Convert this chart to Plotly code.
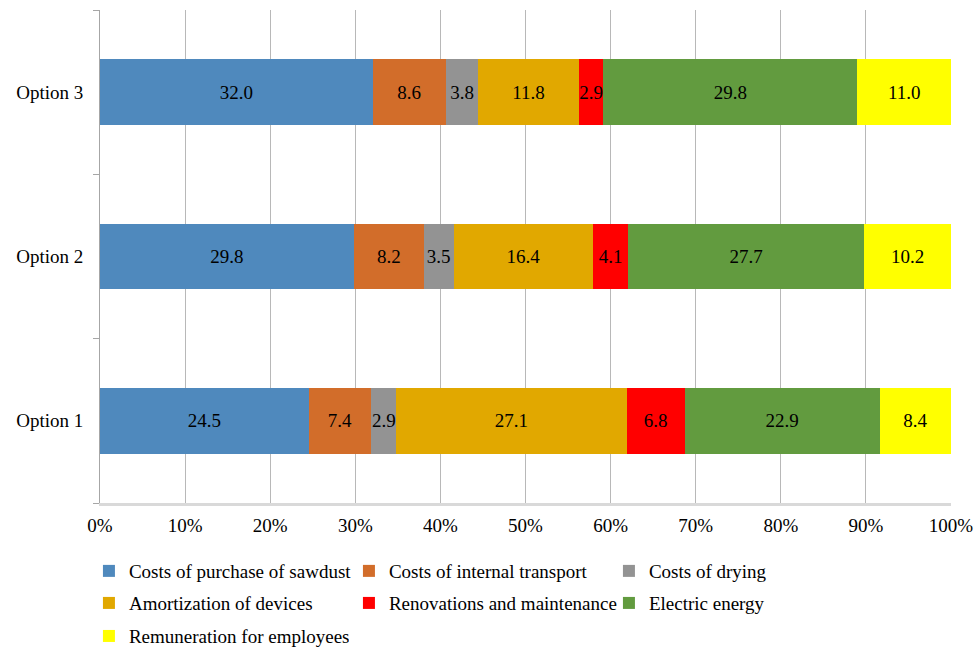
import plotly.graph_objects as go

categories = ["Option 1", "Option 2", "Option 3"]
series_names = [
    "Costs of purchase of sawdust",
    "Costs of internal transport",
    "Costs of drying",
    "Amortization of devices",
    "Renovations and maintenance",
    "Electric energy",
    "Remuneration for employees",
]
sawdust = [24.5, 29.8, 32.0]
transport = [7.4, 8.2, 8.6]
drying = [2.9, 3.5, 3.8]
amortization = [27.1, 16.4, 11.8]
renovations = [6.8, 4.1, 2.9]
energy = [22.9, 27.7, 29.8]
remuneration = [8.4, 10.2, 11.0]
series_values = [sawdust, transport, drying, amortization, renovations, energy, remuneration]
tick_values = [0, 10, 20, 30, 40, 50, 60, 70, 80, 90, 100]
tick_labels = [f"{v}%" for v in tick_values]

colors = ["#4F89BD", "#D26D2A", "#939393", "#E1A800", "#FF0000", "#629B3F", "#FFFF00"]
legend_ids = ["legend", "legend", "legend", "legend2", "legend2", "legend2", "legend3"]
FONT = "Liberation Serif, Times New Roman, serif"
FS = 19

fig = go.Figure()
for name, vals, col, lg in zip(series_names, series_values, colors, legend_ids):
    fig.add_trace(go.Bar(
        y=categories, x=vals, name=name, orientation="h",
        marker=dict(color=col, line=dict(width=0)),
        text=[f"{v:.1f}" for v in vals],
        textposition="inside", insidetextanchor="middle", textangle=0,
        constraintext="none",
        textfont=dict(family=FONT, size=FS, color="black"),
        legend=lg, hoverinfo="x+y+name",
    ))

leg_common = dict(orientation="h", xanchor="left", yanchor="middle",
                  traceorder="normal",
                  font=dict(family=FONT, size=FS, color="black"),
                  entrywidth=215, entrywidthmode="pixels",
                  bgcolor="rgba(0,0,0,0)", itemwidth=30)

fig.update_layout(
    barmode="stack", barnorm="percent", bargap=0.6,
    width=977, height=649,
    margin=dict(l=100, r=26, t=10, b=146, autoexpand=False),
    paper_bgcolor="white", plot_bgcolor="white",
    font=dict(family=FONT, size=FS, color="black"),
    xaxis=dict(range=[0, 100], tickvals=tick_values, ticktext=tick_labels,
               showgrid=True, gridcolor="#B8B8B8", gridwidth=1,
               showline=True, linecolor="#D9D9D9", linewidth=3,
               ticks="", zeroline=False, ticklabelstandoff=3, automargin=False,
               tickfont=dict(family=FONT, size=FS, color="black")),
    yaxis=dict(showline=True, linecolor="#A6A6A6", linewidth=1,
               ticks="outside", tickson="boundaries", ticklen=6, tickcolor="#A6A6A6",
               showgrid=False, ticklabelstandoff=12, automargin=False,
               tickfont=dict(family=FONT, size=FS, color="black")),
    legend=dict(x=-0.013, y=-0.138, **leg_common),
    legend2=dict(x=-0.013, y=-0.203, **leg_common),
    legend3=dict(x=-0.013, y=-0.270, **leg_common),
)

fig.write_html("out.html")
